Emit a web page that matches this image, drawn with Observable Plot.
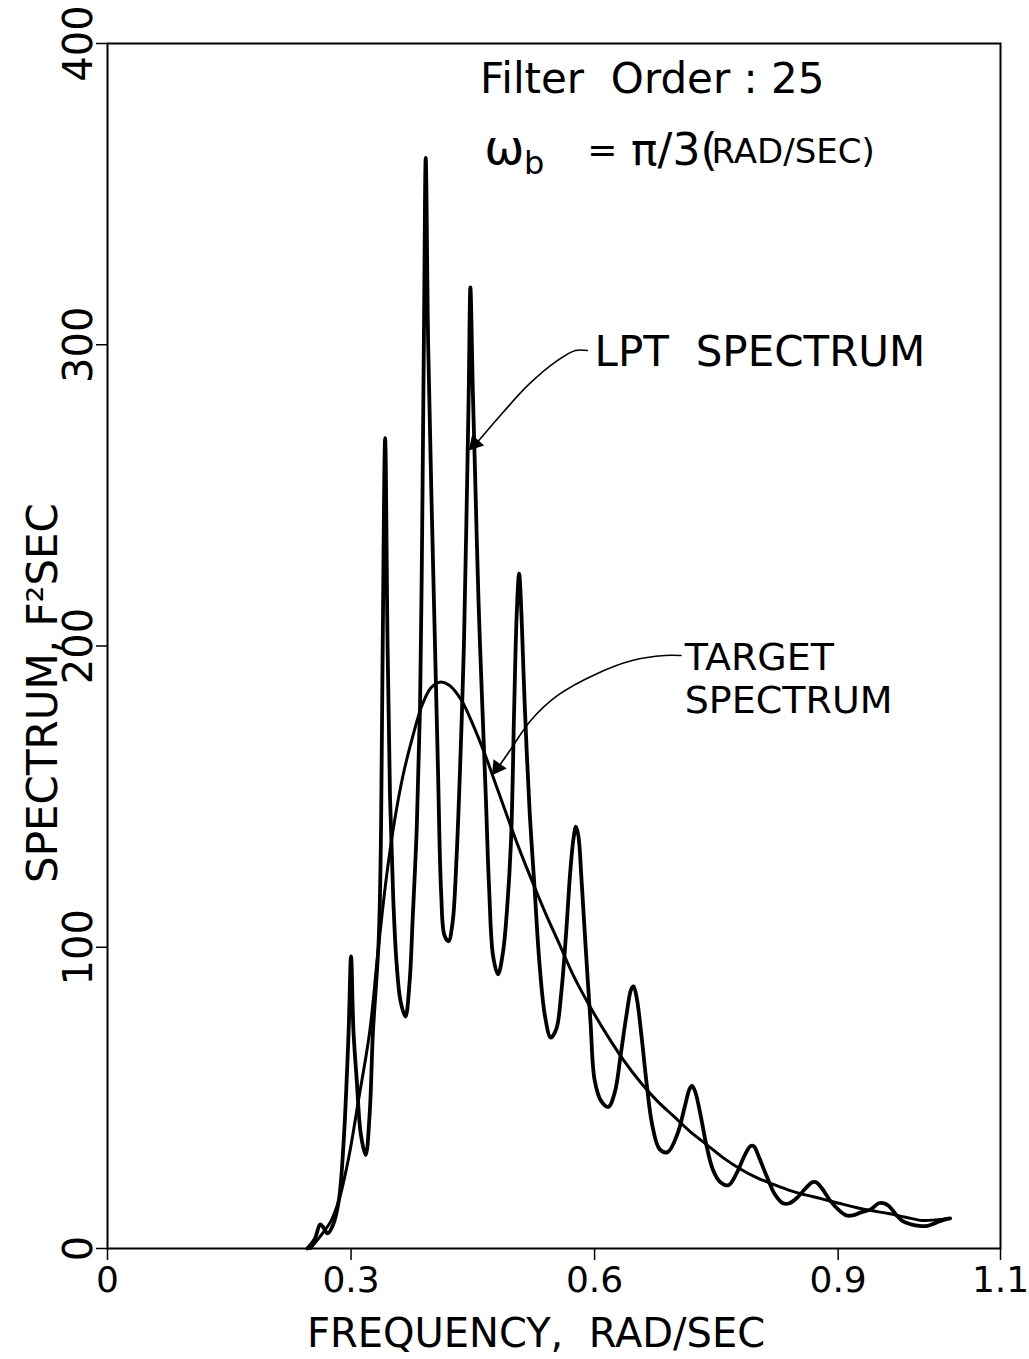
<!DOCTYPE html>
<html>
<head>
<meta charset="utf-8">
<script src="https://cdn.jsdelivr.net/npm/d3@7"></script>
<script src="https://cdn.jsdelivr.net/npm/@observablehq/plot@0.6"></script>
<style>
  html, body { margin: 0; padding: 0; background: #fff; }
  #chart svg { display: block; }
</style>
</head>
<body>
<div id="chart"></div>
<script>
// ---- LPT spectrum ----
const lptFreq = [0.246,0.255,0.262,0.266,0.271,0.278,0.285,0.291,0.297,0.300,0.303,0.307,0.312,0.318,0.323,0.327,0.334,0.337,0.339,0.342,0.345,0.348,0.352,0.356,0.361,0.367,0.372,0.376,0.381,0.385,0.388,0.390,0.392,0.395,0.399,0.403,0.407,0.411,0.415,0.420,0.425,0.430,0.435,0.439,0.442,0.445,0.447,0.450,0.453,0.457,0.461,0.466,0.470,0.475,0.481,0.487,0.492,0.497,0.501,0.504,0.507,0.510,0.514,0.520,0.526,0.532,0.539,0.546,0.553,0.559,0.565,0.570,0.574,0.577,0.580,0.584,0.589,0.595,0.600,0.608,0.617,0.625,0.632,0.639,0.645,0.648,0.652,0.658,0.664,0.671,0.680,0.690,0.702,0.711,0.717,0.720,0.724,0.730,0.738,0.746,0.755,0.765,0.775,0.785,0.792,0.796,0.803,0.812,0.822,0.832,0.840,0.850,0.860,0.868,0.873,0.880,0.890,0.900,0.910,0.918,0.928,0.940,0.950,0.957,0.963,0.972,0.980,0.990,1.000,1.010,1.020,1.030,1.038];
const lptSpec = [0,3,8,7,5,8,16,36,72,97,72,56,38,31,45,72,102,140,200,269,200,150,116,95,82,77,88,110,140,180,250,310,362,300,250,205,160,118,104,102,108,130,165,200,240,285,319,285,255,215,185,150,120,97,91,98,112,135,180,210,224,210,180,145,120,95,77,70,73,85,105,125,136,140,137,122,100,75,56,49,47,52,64,77,86,87,83,70,55,41,33,32,38,47,53,54,52,45,34,26,22,21,25,31,34,34,30,24,18,15,15,17,20,22,22,20,16,13,11,11,12,13,15,15,14,11,9,8,7.5,7.5,8.5,9.5,10];

// ---- Target spectrum ----
const targetFreq = [0.250,0.262,0.275,0.285,0.297,0.309,0.323,0.333,0.343,0.353,0.364,0.376,0.387,0.398,0.409,0.421,0.436,0.450,0.465,0.481,0.497,0.511,0.526,0.540,0.555,0.575,0.595,0.615,0.637,0.657,0.677,0.697,0.717,0.738,0.759,0.779,0.799,0.820,0.840,0.860,0.881,0.901,0.922,0.942,0.962,0.983,1.004,1.020,1.036];
const targetSpec = [0,4,9,16,30,49,72,98,122,141,157,170,180,186,188,187,182,174,164,152,140,130,120,111,102,90,80,71,62,55,49,44,39,34.5,30,26.5,23.6,21.3,19.3,17.8,16.4,15,13.6,12.5,11.6,10.4,9.3,9.5,10];

// ---- Axes ----
const xTicks = [0, 0.3, 0.6, 0.9, 1.1];
const xTickLabels = ["0", "0.3", "0.6", "0.9", "1.1"];
const yTicks = [0, 100, 200, 300, 400];
const xTitle = "FREQUENCY,\u00a0\u00a0RAD/SEC";
const yTitle = "SPECTRUM,\u00a0F\u00b2SEC";

// ---- Annotations (data coordinates) ----
const noteText = ["Filter\u00a0\u00a0Order\u00a0:\u00a025", "LPT\u00a0\u00a0SPECTRUM", "TARGET", "SPECTRUM"];
const noteX = [0.459, 0.600, 0.711, 0.711];
const noteY = [388, 297.4, 196.2, 181.9];
const noteSize = [42, 42, 38, 38];

const wbText = ["\u03c9", "b", "=", "\u03c0/3(", "RAD/SEC)"];
const wbX = [0.464, 0.513, 0.591, 0.645, 0.744];
const wbY = [365, 360, 364.5, 364.5, 363.8];
const wbSize = [48, 32, 36, 44, 34];

const lptLeaderX = [0.5912, 0.5765, 0.5545, 0.5177, 0.4871, 0.4627, 0.4530];
const lptLeaderY = [298.1, 298.1, 294.8, 286.5, 277.5, 269.9, 266.9];
const tgtLeaderX = [0.7063, 0.6867, 0.6463, 0.6034, 0.5545, 0.5214, 0.4957, 0.4800];
const tgtLeaderY = [196.85, 196.85, 195.2, 190.9, 183.6, 175.3, 165.3, 159.2];

// arrowheads: position and direction (degrees clockwise from up)
const headX = [0.4527, 0.4803];
const headY = [267.2, 159.6];
const headAngle = [222, 215];

const lpt = lptFreq.map((f, i) => ({f, s: lptSpec[i]}));
const target = targetFreq.map((f, i) => ({f, s: targetSpec[i]}));
const notes = noteText.map((t, i) => ({t, x: noteX[i], y: noteY[i], size: noteSize[i]}));
const wb = wbText.map((t, i) => ({t, x: wbX[i], y: wbY[i], size: wbSize[i]}));
const lptLeader = lptLeaderX.map((x, i) => ({x, y: lptLeaderY[i]}));
const tgtLeader = tgtLeaderX.map((x, i) => ({x, y: tgtLeaderY[i]}));
const heads = headX.map((x, i) => ({x, y: headY[i], a: headAngle[i]}));

const FONT = "DejaVu Sans, Liberation Sans, sans-serif";

const chart = Plot.plot({
  width: 1029,
  height: 1359,
  marginLeft: 107,
  marginRight: 29,
  marginTop: 43,
  marginBottom: 111,
  style: {fontFamily: FONT, color: "#000", background: "#fff"},
  x: {domain: [0, 1.1]},
  y: {domain: [0, 400]},
  marks: [
    Plot.frame({stroke: "#000", strokeWidth: 2}),
    Plot.axisX({
      ticks: xTicks, tickSize: 12, tickPadding: 6, fontSize: 36,
      tickFormat: (d) => xTickLabels[xTicks.indexOf(d)] ?? String(d),
      label: null, strokeWidth: 1.5
    }),
    Plot.axisY({
      ticks: yTicks, tickSize: 11, tickPadding: 5, fontSize: 40,
      tickRotate: -90, label: null, strokeWidth: 1.5
    }),
    Plot.text([xTitle], {frameAnchor: "bottom", dx: -18, dy: 86, fontSize: 40, lineAnchor: "middle"}),
    Plot.text([yTitle], {frameAnchor: "left", dx: -64, dy: 47, rotate: -90, fontSize: 42, textAnchor: "middle", lineAnchor: "middle"}),
    Plot.line(target, {x: "f", y: "s", curve: "catmull-rom", stroke: "#000", strokeWidth: 3}),
    Plot.line(lpt, {x: "f", y: "s", curve: "catmull-rom", stroke: "#000", strokeWidth: 3.8}),
    Plot.line(lptLeader, {x: "x", y: "y", curve: "catmull-rom", stroke: "#000", strokeWidth: 1.6}),
    Plot.line(tgtLeader, {x: "x", y: "y", curve: "catmull-rom", stroke: "#000", strokeWidth: 1.6}),
    Plot.dot(heads, {x: "x", y: "y", symbol: "triangle", r: 6, fill: "#000", stroke: "none", rotate: "a"}),
    Plot.text(notes, {x: "x", y: "y", text: "t", textAnchor: "start", lineAnchor: "middle", fontSize: (d) => d.size}),
    Plot.text(wb, {x: "x", y: "y", text: "t", textAnchor: "start", lineAnchor: "middle", fontSize: (d) => d.size})
  ]
});
document.getElementById("chart").appendChild(chart);
</script>
</body>
</html>
